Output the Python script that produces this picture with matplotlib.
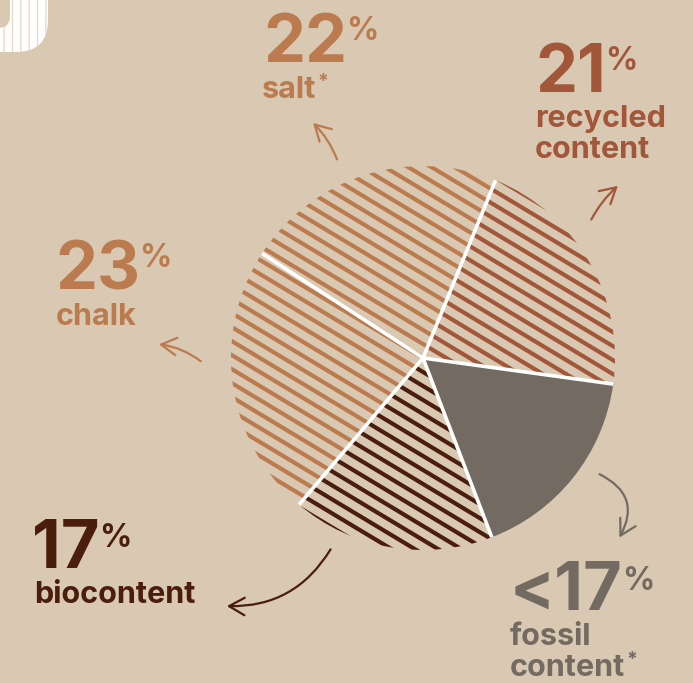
import numpy as np
import matplotlib.pyplot as plt
from matplotlib.collections import LineCollection
from matplotlib.patches import FancyArrowPatch, FancyBboxPatch

# slices, clockwise from the upper left
labels = [['salt'], ['recycled', 'content'], ['fossil', 'content'], ['biocontent'], ['chalk']]
shares = [22, 21, 17, 17, 23]
share_text = ['22', '21', '<17', '17', '23']
colors = ['#bb7b4f', '#a2563a', '#736b61', '#4a1d0d', '#bb7b4f']
hatched = [True, True, False, True, True]
starred = [True, False, True, False, False]

W, H = 693, 683
bg = '#d9c9b3'

fig = plt.figure(figsize=(W / 100, H / 100), dpi=100)
fig.patch.set_facecolor(bg)
ax = fig.add_axes([0, 0, 1, 1])
ax.set_xlim(0, W)
ax.set_ylim(H, 0)
ax.axis('off')
renderer = fig.canvas.get_renderer()

# logo corner, top left
ax.add_patch(FancyBboxPatch((-80, -80), 128, 132, boxstyle='round,pad=0,rounding_size=32',
                            facecolor='white', edgecolor='#e6dacb', lw=0, hatch='||'))
ax.add_patch(FancyBboxPatch((-80, -80), 90, 108, boxstyle='round,pad=0,rounding_size=12',
                            facecolor=bg, edgecolor='none', lw=0))

# pie
cx, cy, r = 423, 358, 192
pax = fig.add_axes([(cx - r) / W, 1 - (cy + r) / H, 2 * r / W, 2 * r / H])
wedges, _ = pax.pie(shares, startangle=147, counterclock=False, radius=1, colors=colors)
pax.set_xlim(-1, 1)
pax.set_ylim(-1, 1)
pax.axis('off')

ang = np.deg2rad(-31)
d = np.array([np.cos(ang), np.sin(ang)])
n = np.array([-np.sin(ang), np.cos(ang)])
step = 12 / r
for w, c, h in zip(wedges, colors, hatched):
    if not h:
        continue
    w.set_facecolor('none')
    segs = [[n * s - d * 1.5, n * s + d * 1.5] for s in np.arange(-1.5, 1.5, step)]
    lc = LineCollection(segs, colors=c, linewidths=3.0, capstyle='butt')
    pax.add_collection(lc)
    lc.set_clip_path(w)

for w in wedges:
    t = np.deg2rad(w.theta1)
    pax.plot([0, np.cos(t)], [0, np.sin(t)], color='white', lw=2.6, solid_capstyle='butt')

# labels: number pos, percent baseline, first label line pos
pos = [
    ((263, 62), 40, (262, 98)),
    ((535, 92), 70, (535, 127)),
    ((510, 610), 590, (510, 645)),
    ((32, 568), 547, (34, 603)),
    ((55, 290), 267, (56, 325)),
]
fam = 'Inter'


def right_edge(t):
    return t.get_window_extent(renderer).x1


for i, ((nx, ny), py, (lx, ly)) in enumerate(pos):
    c = colors[i]
    num = ax.text(nx, ny, share_text[i], fontsize=48, color=c, family=fam,
                  fontweight='bold', va='baseline', ha='left')
    ax.text(right_edge(num) - 1, py, '%', fontsize=23, color=c, family=fam,
            fontweight='bold', va='baseline', ha='left')
    for k, line in enumerate(labels[i]):
        lt = ax.text(lx, ly + 31 * k, line, fontsize=22, color=c, family=fam,
                     fontweight='bold', va='baseline', ha='left')
    if starred[i]:
        ax.text(right_edge(lt) + 1, ly + 31 * (len(labels[i]) - 1) - 11, '*', fontsize=14,
                color=c, family=fam, fontweight='bold', va='baseline', ha='left')

# arrows: tail, head, bend
arrows = [
    ((338, 162), (311, 121), 0.12, colors[0]),
    ((590, 222), (620, 184), -0.1, colors[1]),
    ((597, 473), (618, 540), -0.55, colors[2]),
    ((332, 547), (224, 606), -0.3, colors[3]),
    ((203, 363), (156, 344), 0.15, colors[4]),
]
for tail, head, rad, c in arrows:
    ax.add_patch(FancyArrowPatch(tail, head, connectionstyle=f'arc3,rad={rad}',
                                 arrowstyle='->,head_length=0.8,head_width=0.45',
                                 mutation_scale=14, lw=1.6, color=c))

fig.savefig('out.png', dpi=100, facecolor=bg)
